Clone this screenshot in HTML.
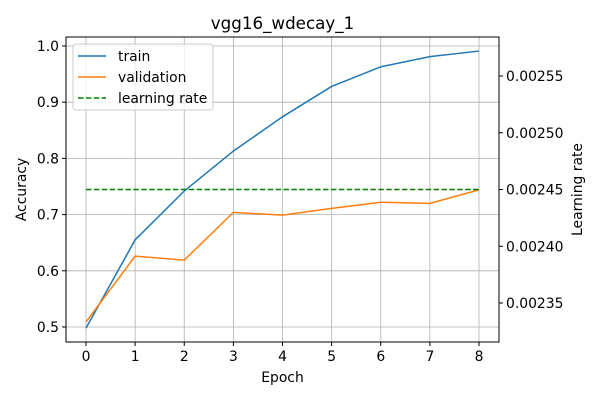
<!DOCTYPE html>
<html><head><meta charset="utf-8"><style>body{margin:0;background:#fff}svg{font-family:"DejaVu Sans","Liberation Sans",sans-serif}</style></head>
<body>
<svg id="c" width="600" height="400" xmlns="http://www.w3.org/2000/svg"></svg>
<script>
const epochs=[0,1,2,3,4,5,6,7,8];
const train=[0.498,0.655,0.742,0.813,0.874,0.928,0.963,0.981,0.991];
const validation=[0.509,0.626,0.619,0.704,0.699,0.711,0.722,0.720,0.744];
const lr=[0.00245,0.00245,0.00245,0.00245,0.00245,0.00245,0.00245,0.00245,0.00245];
const yTicks=[0.5,0.6,0.7,0.8,0.9,1.0];
const lrTicks=[0.00235,0.0024,0.00245,0.0025,0.00255];
const L=66,R=499,T=37,B=342;
const sx=v=>86+v*49.125;
const sy=v=>327-(v-0.5)*562;
const sr=v=>303-(v-0.00235)/0.0002*227;
const svg=document.getElementById('c');
const NS='http://www.w3.org/2000/svg';
function mk(t,a,txt){const e=document.createElementNS(NS,t);for(const k in a)e.setAttribute(k,a[k]);if(txt!==undefined)e.textContent=txt;svg.appendChild(e);return e;}
epochs.forEach(e=>{const g=mk('line',{x1:sx(e),x2:sx(e),y1:T,y2:B,stroke:'#b0b0b0','stroke-width':0.8});

});
yTicks.forEach(v=>{const g=mk('line',{x1:L,x2:R,y1:sy(v),y2:sy(v),stroke:'#b0b0b0','stroke-width':0.8});

});
function line(vals,scale,color,name,dash){const p=mk('polyline',{points:vals.map((v,i)=>sx(epochs[i])+','+scale(v)).join(' '),fill:'none',stroke:color,'stroke-width':1.5,'stroke-dasharray':dash||'none'});

}
line(train,sy,'#1f77b4','train-line');
line(validation,sy,'#ff7f0e','validation-line');
line(lr,sr,'#008000','learning-rate-line','5.5,2.4');
const fr=mk('rect',{x:L,y:T,width:R-L,height:B-T,fill:'none',stroke:'#000','stroke-width':1});


epochs.forEach(e=>{mk('line',{x1:sx(e),x2:sx(e),y1:B,y2:B+4,stroke:'#000'});
const t=mk('text',{x:sx(e),y:B+19,'font-size':13.9,'text-anchor':'middle'},e);

});
yTicks.forEach(v=>{mk('line',{x1:L-4,x2:L,y1:sy(v),y2:sy(v),stroke:'#000'});
const t=mk('text',{x:L-7,y:sy(v)+5,'font-size':13.9,'text-anchor':'end'},v.toFixed(1));

});
lrTicks.forEach(v=>{mk('line',{x1:R,x2:R+4,y1:sr(v),y2:sr(v),stroke:'#000'});
const t=mk('text',{x:R+7,y:sr(v)+5,'font-size':13.9},v.toFixed(5));

});
let t=mk('text',{x:282.5,y:29,'font-size':16.7,'text-anchor':'middle'},'vgg16_wdecay_1');

t=mk('text',{x:282.5,y:382,'font-size':13.9,'text-anchor':'middle'},'Epoch');

t=mk('text',{x:0,y:0,'font-size':13.9,'text-anchor':'middle',transform:'translate(26,189.5) rotate(-90)'},'Accuracy');

t=mk('text',{x:0,y:0,'font-size':13.9,'text-anchor':'middle',transform:'translate(582,189.5) rotate(-90)'},'Learning rate');

const lg=mk('rect',{x:73,y:44,width:140,height:66,rx:3,fill:'#fff','fill-opacity':0.8,stroke:'#ccc'});

[['train','#1f77b4',''],['validation','#ff7f0e',''],['learning rate','#008000','5.5,2.4']].forEach((d,i)=>{
const y=56+i*21;
mk('line',{x1:78,x2:106,y1:y,y2:y,stroke:d[1],'stroke-width':1.5,'stroke-dasharray':d[2]||'none'});
const e=mk('text',{x:118,y:y+5,'font-size':13.9},d[0]);

});
</script>
</body></html>
